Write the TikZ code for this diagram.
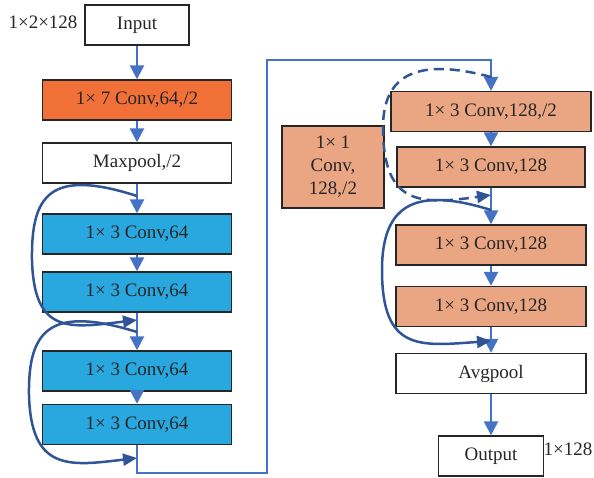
\documentclass[tikz,border=0pt]{standalone}
\usepackage{fontspec}
\setmainfont{Liberation Serif}
\usepackage{tikz}
\usetikzlibrary{arrows.meta}
\usetikzlibrary{calc}
\definecolor{convorange}{HTML}{F07038}
\definecolor{convsalmon}{HTML}{EAA683}
\definecolor{convblue}{HTML}{29A8E0}
\definecolor{flowblue}{HTML}{4472C4}
\definecolor{skipblue}{HTML}{2F5597}
\newcommand{\layerbox}[5]{\node[blk, fill=#2, minimum width=#3pt] (#1) at (#4) {#5};}

\begin{document}
\begin{tikzpicture}[x=1pt, y=-1pt,
    blk/.style={draw=black!85, line width=1.4pt, minimum height=40pt, inner sep=0pt,
        font=\fontsize{19}{23}\selectfont, text=black!85},
    flow/.style={draw=flowblue, line width=2.5pt, -{Triangle[length=14pt,width=14pt]}},
    skip/.style={draw=skipblue, line width=2.5pt, -{Triangle[length=14pt,width=12pt]}},
    link/.style={draw=flowblue, line width=2pt, -{Triangle[length=14pt,width=14pt]}},
    size/.style={font=\fontsize{19}{23}\selectfont, text=black!85, inner sep=0pt}]
        \useasboundingbox (0,0) rectangle (594,477);
        % left column
        \layerbox{inp}{white}{104}{137,25}{Input}
        \layerbox{c7}{convorange}{189}{137,100}{1× 7 Conv,64,/2}
        \layerbox{mpool}{white}{189}{137,163}{Maxpool,/2}
        \layerbox{a1}{convblue}{189}{137,234}{1× 3 Conv,64}
        \layerbox{a2}{convblue}{189}{137,292}{1× 3 Conv,64}
        \layerbox{a3}{convblue}{189}{137,371}{1× 3 Conv,64}
        \layerbox{a4}{convblue}{189}{137,424.5}{1× 3 Conv,64}
        % right column
        \layerbox{b1}{convsalmon}{200}{491,111.5}{1× 3 Conv,128,/2}
        \layerbox{b2}{convsalmon}{188}{491,167}{1× 3 Conv,128}
        \layerbox{b3}{convsalmon}{190}{491,245}{1× 3 Conv,128}
        \layerbox{b4}{convsalmon}{190}{491,306.5}{1× 3 Conv,128}
        \layerbox{apool}{white}{190}{491,373.5}{Avgpool}
        \layerbox{outp}{white}{105}{491,456}{Output}
        \node[blk, fill=convsalmon, minimum width=102pt, minimum height=82pt, align=center] (sc) at (333,167) {1× 1\\Conv,\\128,/2};
        % sizes
        \node[size] (insize) at (43,22) {1×2×128};
        \node[size] (outsize) at (568,449) {1×128};
        % main flow
        \draw[flow] (inp) -- (c7);
        \draw[flow] (c7) -- (mpool);
        \draw[flow] (mpool) -- (a1);
        \draw[flow] (a1) -- (a2);
        \draw[flow] (a2) -- (a3);
        \draw[flow] (a3) -- (a4);
        \draw[flow] (b1) -- (b2);
        \draw[flow] (b2) -- (b3);
        \draw[flow] (b3) -- (b4);
        \draw[flow] (b4) -- (apool);
        \draw[flow] (apool) -- (outp);
        \coordinate (lowturn) at (267,473);
        \coordinate (hightop) at (267,60);
        \draw[link] (a4.south) |- (lowturn) -- (hightop) -| (b1.north);
        % skip connections
        \coordinate (s1a) at (137,196);
        \coordinate (s1b) at (137,320);
        \coordinate (s2a) at (137,332);
        \coordinate (s2b) at (137,458);
        \coordinate (s3a) at (491,77);
        \coordinate (s3b) at (491,195);
        \coordinate (s4a) at (491,210);
        \coordinate (s4b) at (491,341);
        \draw[skip] (s1a) .. controls (50,168) and (31,195) .. (32,260) .. controls (34,335) and (70,328) .. (s1b);
        \draw[skip] (s2a) .. controls (50,305) and (28,330) .. (29,395) .. controls (31,472) and (70,466) .. (s2b);
        \draw[skip, dash pattern=on 10pt off 6pt] (s3a) .. controls (420,58) and (382,72) .. (383,130) .. controls (384,205) and (420,205) .. (s3b);
        \draw[skip] (s4a) .. controls (420,188) and (382,200) .. (382,270) .. controls (382,352) and (420,346) .. (s4b);
\end{tikzpicture}
\end{document}
